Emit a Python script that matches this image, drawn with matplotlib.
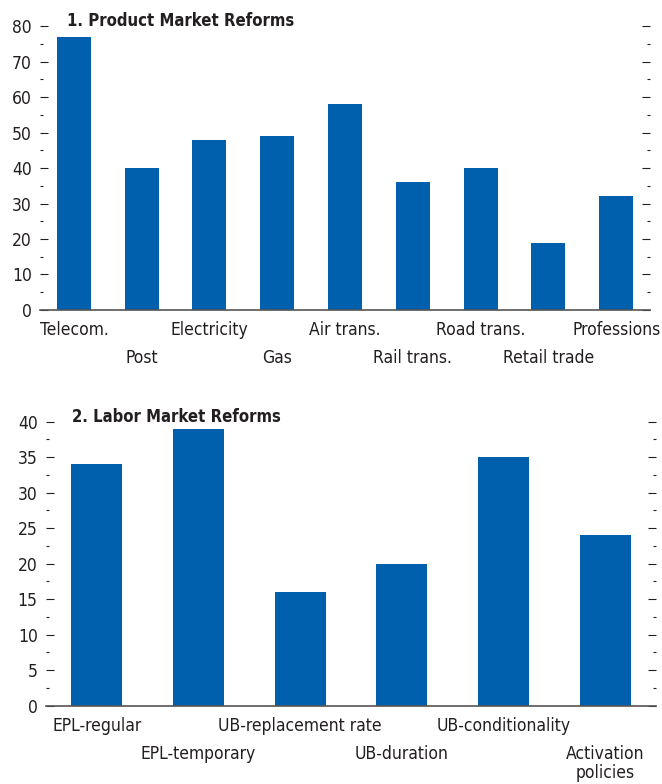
import matplotlib
matplotlib.use("Agg")
import matplotlib.pyplot as plt
import numpy as np
from matplotlib.ticker import MultipleLocator

plt.rcParams['font.family'] = ['DejaVu Sans']
plt.rcParams['font.stretch'] = 'condensed'

# Panel 1 data
product_labels = ['Telecom.', 'Post', 'Electricity', 'Gas', 'Air trans.',
                  'Rail trans.', 'Road trans.', 'Retail trade', 'Professions']
product_values = [77, 40, 48, 49, 58, 36, 40, 19, 32]

# Panel 2 data
labor_labels = ['EPL-regular', 'EPL-temporary', 'UB-replacement rate',
                'UB-duration', 'UB-conditionality', 'Activation\npolicies']
labor_values = [34, 39, 16, 20, 35, 24]

bar_color = '#0060ae'
text_color = '#231f20'
fs = 12.5

fig = plt.figure(figsize=(6.62, 7.84), dpi=100)
ax1 = fig.add_axes([0.0604, 0.6046, 0.9215, 0.3622])
ax2 = fig.add_axes([0.0695, 0.0999, 0.9215, 0.3622])


def style(ax, labels, values, ymax, major, title, title_x):
    x = np.arange(len(labels))
    ax.bar(x, values, width=0.5, color=bar_color)
    ax.set_xlim(-0.5, len(labels) - 0.5)
    ax.set_ylim(0, ymax)
    for s in ['top', 'left', 'right']:
        ax.spines[s].set_visible(False)
    ax.spines['bottom'].set_color('#555555')
    ax.spines['bottom'].set_linewidth(1.2)
    ax.yaxis.set_major_locator(MultipleLocator(major))
    ax.yaxis.set_minor_locator(MultipleLocator(major / 2))
    ax.tick_params(axis='y', which='both', direction='in', left=True, right=True,
                   colors=text_color, labelsize=fs, pad=6)
    ax.tick_params(axis='y', which='major', length=5.5, width=0.8)
    ax.tick_params(axis='y', which='minor', length=2, width=0.8)
    ax.set_xticks(x)
    ax.set_xticklabels(labels, fontsize=fs, color=text_color, linespacing=1.1)
    ax.tick_params(axis='x', length=0, pad=8)
    for i, t in enumerate(ax.xaxis.get_major_ticks()):
        if i % 2 == 1:
            t.set_pad(28)
        t.label1.set_verticalalignment('top')
    ax.text(title_x, 1.018, title, transform=ax.transAxes, fontsize=12,
            fontweight='bold', color=text_color, va='center', ha='left')


style(ax1, product_labels, product_values, 80, 10, '1. Product Market Reforms', 0.044)
style(ax2, labor_labels, labor_values, 40, 5, '2. Labor Market Reforms', 0.043)

fig.savefig('out.png', dpi=100)
